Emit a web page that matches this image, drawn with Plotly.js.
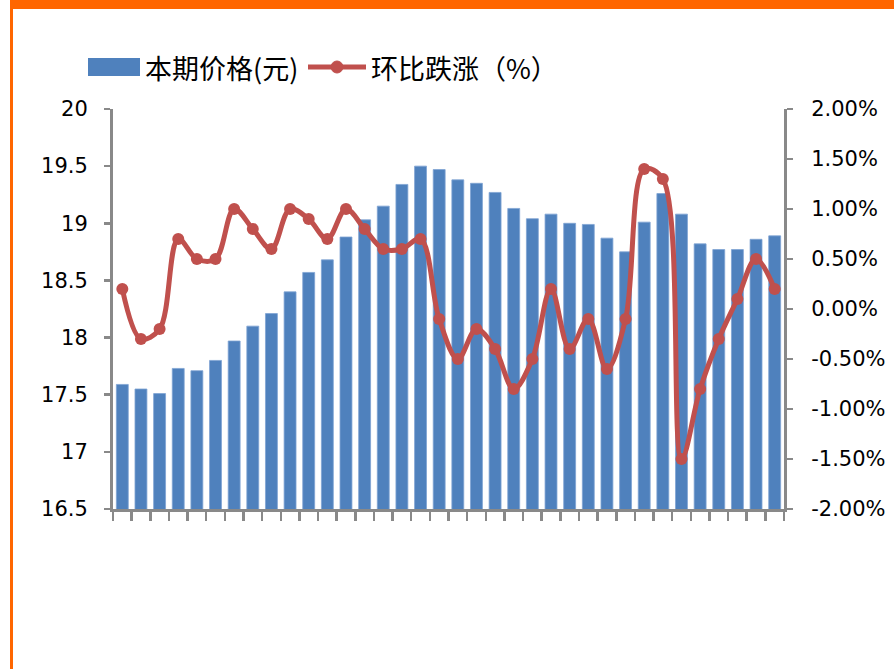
<!DOCTYPE html>
<html>
<head>
<meta charset="utf-8">
<script src="https://cdn.plot.ly/plotly-3.0.1.min.js"></script>
<style>
  html, body { margin: 0; padding: 0; background: #ffffff; }
  #wrap { position: relative; width: 894px; height: 669px; overflow: hidden; }
  #chart { position: absolute; left: 0; top: 0; width: 894px; height: 669px; }
  .topband { position: absolute; left: 10px; top: 0; width: 884px; height: 9px; background: #FF6600; z-index: 5; }
  .leftband { position: absolute; left: 10px; top: 0; width: 3px; height: 669px; background: #FF6600; z-index: 5; }
</style>
</head>
<body>
<div id="wrap">
  <div id="chart"></div>
  <div class="topband"></div>
  <div class="leftband"></div>
</div>
<script>
// Periods (x-axis labels are not legible in the reference)
const categories = [];
for (let i = 1; i <= 36; i++) categories.push('第' + i + '期');

// 本期价格(元)
const priceValues = [
  17.59, 17.55, 17.51, 17.73, 17.71, 17.80, 17.97, 18.10, 18.21, 18.40,
  18.57, 18.68, 18.88, 19.03, 19.15, 19.34, 19.50, 19.47, 19.38, 19.35,
  19.27, 19.13, 19.04, 19.08, 19.00, 18.99, 18.87, 18.75, 19.01, 19.26,
  19.08, 18.82, 18.77, 18.77, 18.86, 18.89
];

// 环比跌涨（%）
const changeValues = [
  0.2, -0.3, -0.2, 0.7, 0.5, 0.5, 1.0, 0.8, 0.6, 1.0,
  0.9, 0.7, 1.0, 0.8, 0.6, 0.6, 0.7, -0.1, -0.5, -0.2,
  -0.4, -0.8, -0.5, 0.2, -0.4, -0.1, -0.6, -0.1, 1.4, 1.3,
  -1.5, -0.8, -0.3, 0.1, 0.5, 0.2
];

const seriesNames = ['本期价格(元)', '环比跌涨（%）'];

// axis tick labels
const leftTickVals = [16.5, 17, 17.5, 18, 18.5, 19, 19.5, 20];
const leftTickText = ['16.5', '17', '17.5', '18', '18.5', '19', '19.5', '20'];
const rightTickVals = [-2, -1.5, -1, -0.5, 0, 0.5, 1, 1.5, 2];
const rightTickText = ['-2.00%', '-1.50%', '-1.00%', '-0.50%', '0.00%', '0.50%', '1.00%', '1.50%', '2.00%'];

const barColor = '#4F81BD';
const lineColor = '#C0504D';
const axisColor = '#898989';
const tickFont = { family: 'DejaVu Sans, Liberation Sans, sans-serif', size: 21, color: '#000000' };
const cjkFont = { family: 'Noto Sans CJK SC, sans-serif', size: 27, color: '#000000' };

const traces = [
  {
    type: 'bar',
    name: seriesNames[0],
    x: categories,
    y: priceValues,
    marker: { color: barColor, line: { color: '#7FA3D3', width: 0.8 } },
    yaxis: 'y',
    hoverinfo: 'x+y'
  },
  {
    type: 'scatter',
    mode: 'lines+markers',
    name: seriesNames[1],
    x: categories,
    y: changeValues,
    yaxis: 'y2',
    line: { color: lineColor, width: 5, shape: 'spline', smoothing: 1 },
    marker: { color: lineColor, size: 12 },
    hoverinfo: 'x+y',
    cliponaxis: false
  }
];

// paper-coordinate helpers for the custom legend (plot area: x 113..784, y 109..509 px)
const px = v => (v - 113) / 671;
const py = v => (509 - v) / 400;

const layout = {
  width: 894,
  height: 669,
  margin: { l: 113, r: 110, t: 109, b: 160 },
  paper_bgcolor: '#ffffff',
  plot_bgcolor: '#ffffff',
  showlegend: false,
  bargap: 0.36,
  xaxis: {
    type: 'category',
    range: [-0.5, categories.length - 0.5],
    autorange: false,
    showticklabels: false,
    showgrid: false,
    zeroline: false,
    showline: true,
    linecolor: axisColor,
    linewidth: 3,
    ticks: 'outside',
    tickson: 'boundaries',
    ticklen: 9,
    tickwidth: 2.5,
    tickcolor: axisColor,
    fixedrange: true
  },
  yaxis: {
    range: [16.5, 20],
    autorange: false,
    tickmode: 'array',
    tickvals: leftTickVals,
    ticktext: leftTickText,
    showgrid: false,
    zeroline: false,
    showline: true,
    linecolor: axisColor,
    linewidth: 3,
    ticks: 'outside',
    ticklen: 6,
    tickwidth: 2.5,
    tickcolor: axisColor,
    tickfont: tickFont,
    ticklabelstandoff: 12,
    fixedrange: true
  },
  yaxis2: {
    overlaying: 'y',
    side: 'right',
    range: [-2, 2],
    autorange: false,
    tickmode: 'array',
    tickvals: rightTickVals,
    ticktext: rightTickText,
    showgrid: false,
    zeroline: false,
    showline: true,
    linecolor: axisColor,
    linewidth: 3,
    ticks: 'outside',
    ticklen: 6,
    tickwidth: 2.5,
    tickcolor: axisColor,
    tickfont: tickFont,
    ticklabelstandoff: 14,
    fixedrange: true
  },
  shapes: [
    { type: 'rect', xref: 'paper', yref: 'paper', x0: px(88), x1: px(140), y0: py(76), y1: py(58),
      fillcolor: barColor, line: { width: 0 } },
    { type: 'line', xref: 'paper', yref: 'paper', x0: px(308), x1: px(366), y0: py(67), y1: py(67),
      line: { color: lineColor, width: 5 } },
    { type: 'circle', xref: 'paper', yref: 'paper', x0: px(331), x1: px(343), y0: py(73), y1: py(61),
      fillcolor: lineColor, line: { color: lineColor, width: 1 } }
  ],
  annotations: [
    { xref: 'paper', yref: 'paper', x: px(143), y: py(67), xanchor: 'left', yanchor: 'middle',
      text: seriesNames[0], showarrow: false, font: cjkFont },
    { xref: 'paper', yref: 'paper', x: px(369), y: py(67), xanchor: 'left', yanchor: 'middle',
      text: seriesNames[1], showarrow: false, font: cjkFont }
  ]
};

Plotly.newPlot('chart', traces, layout, { displayModeBar: false, staticPlot: true });
</script>
</body>
</html>
